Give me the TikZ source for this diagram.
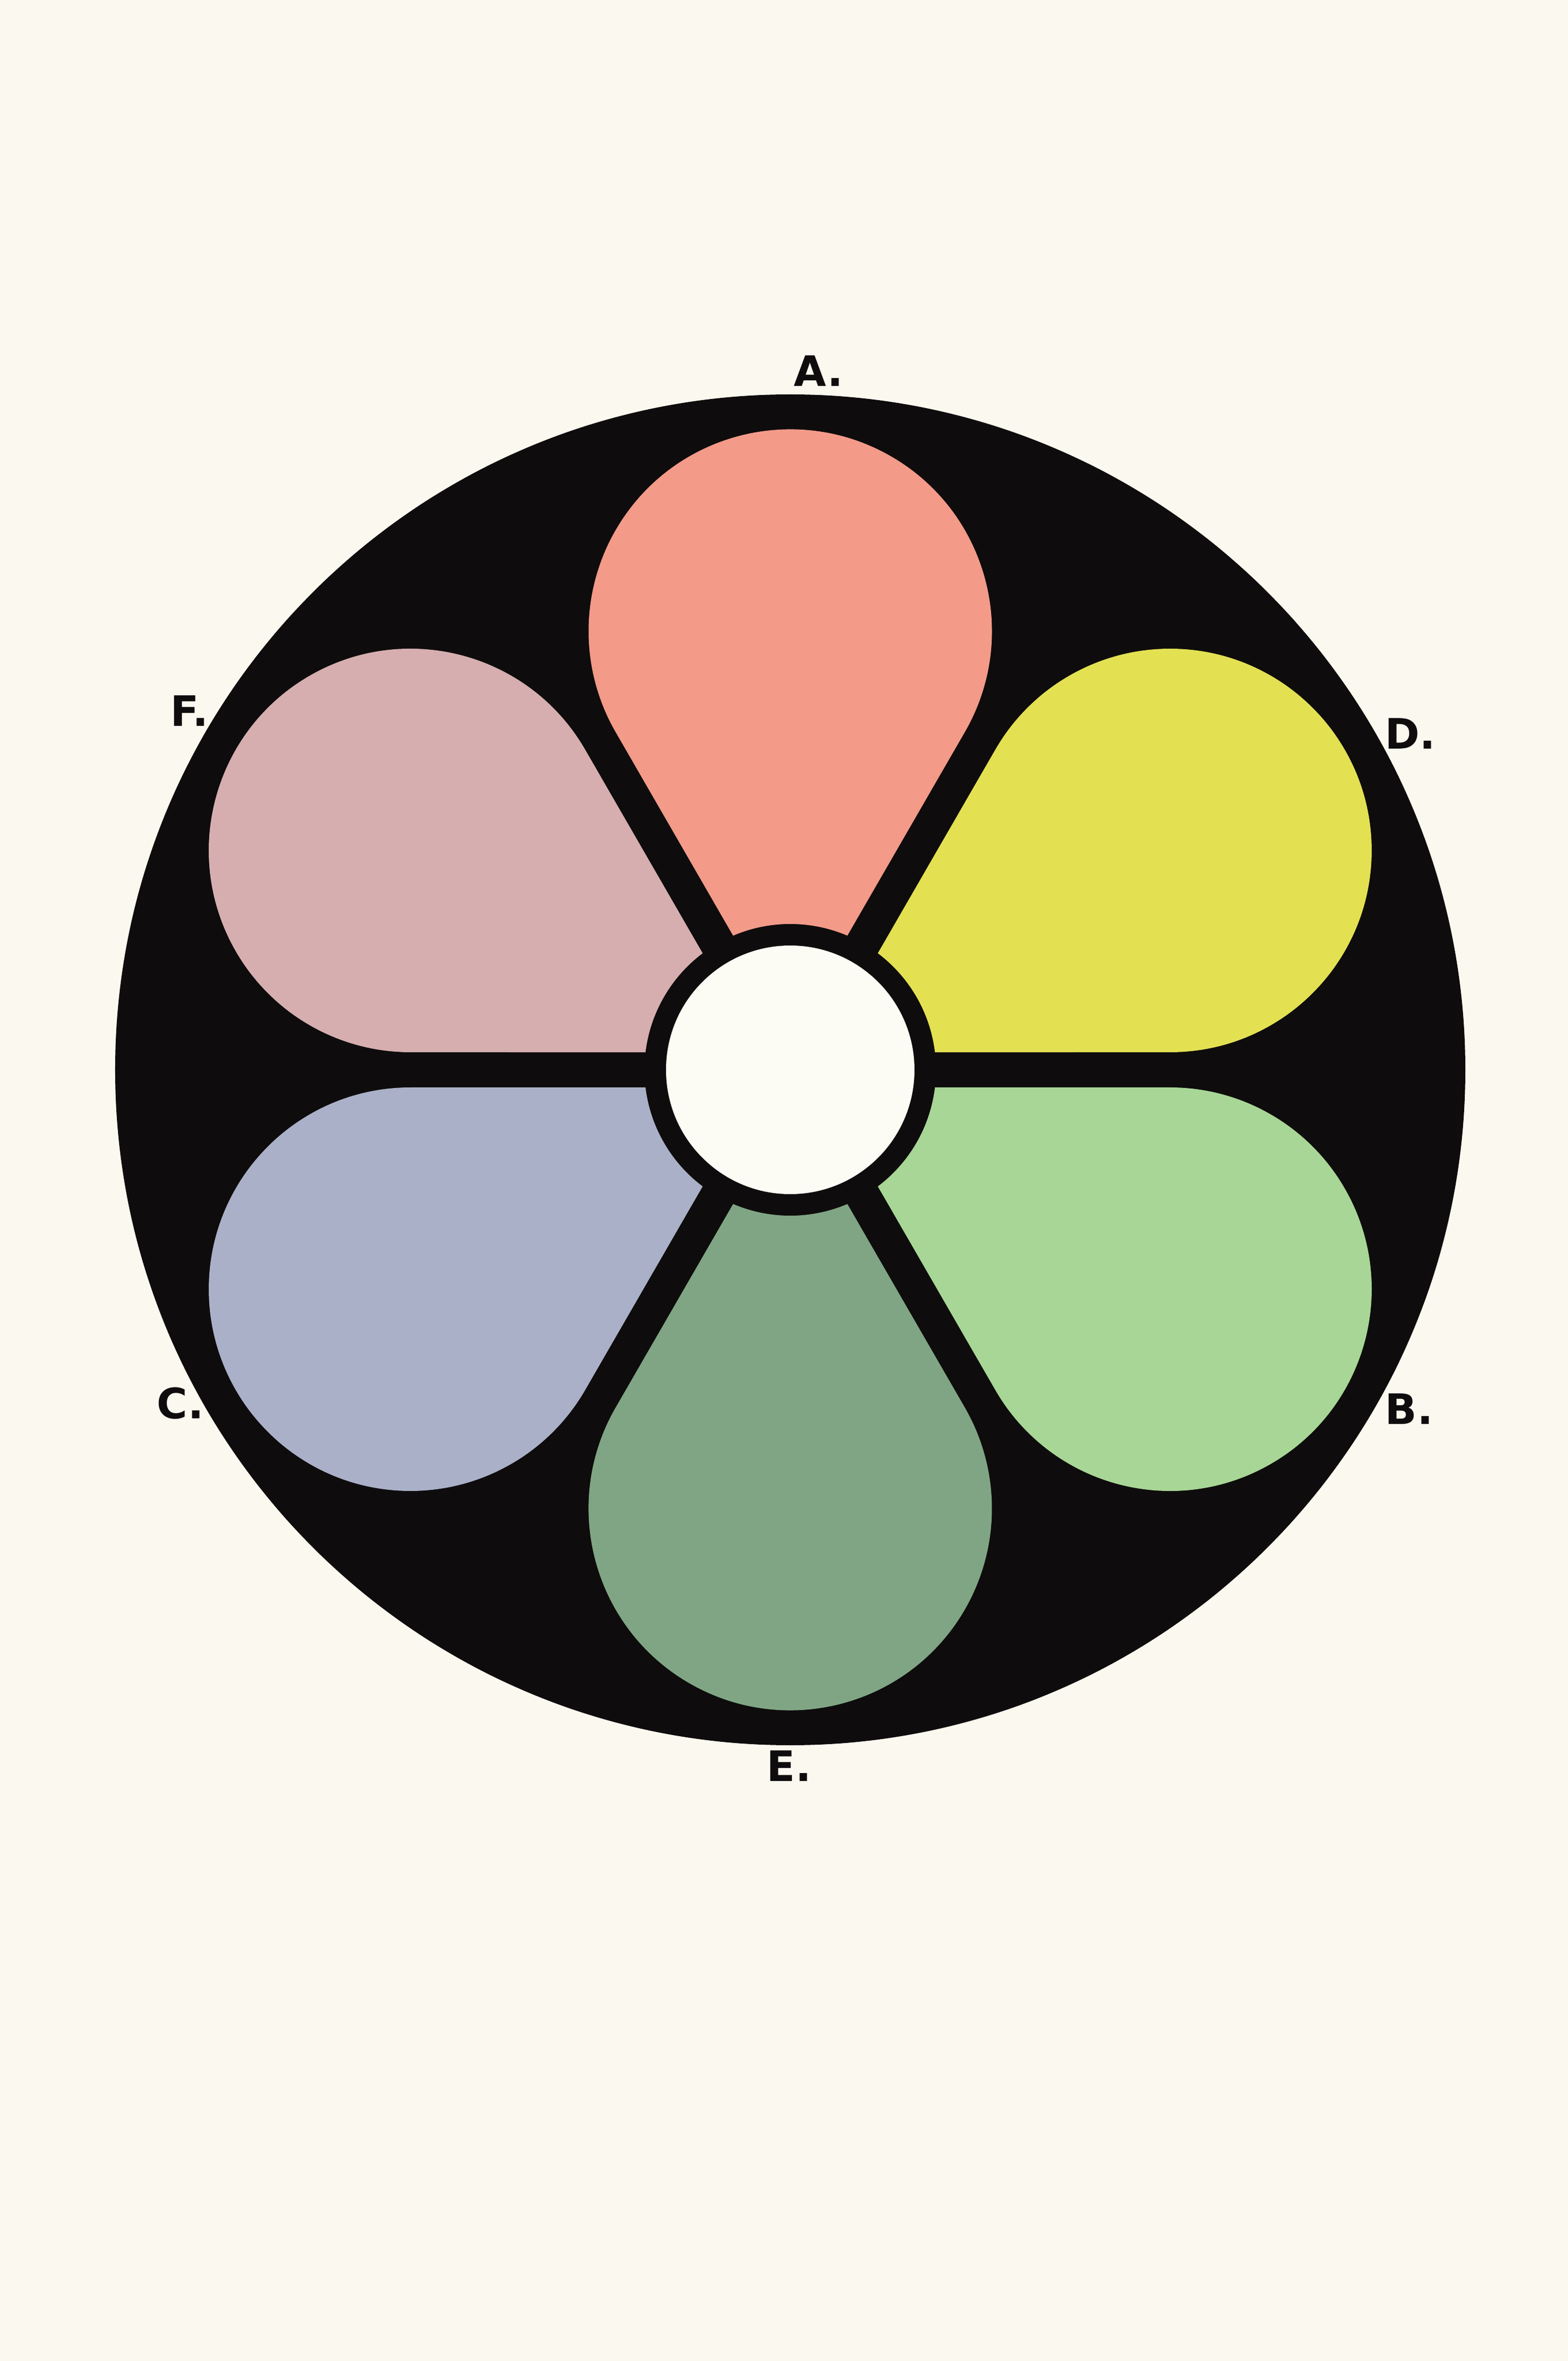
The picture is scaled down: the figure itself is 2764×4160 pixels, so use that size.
\documentclass[tikz,border=0pt]{standalone}
\usepackage{fontspec}
\setmainfont{DejaVu Sans}
\usepackage{xcolor}
\usetikzlibrary{calc}

\definecolor{paper}{HTML}{FBF9EF}
\definecolor{ink}{HTML}{0E0C0C}
\definecolor{centre}{HTML}{FCFCF4}
\definecolor{petalA}{HTML}{F39A89}
\definecolor{petalB}{HTML}{A8D696}
\definecolor{petalC}{HTML}{AAB0C8}
\definecolor{petalD}{HTML}{E3E152}
\definecolor{petalE}{HTML}{80A584}
\definecolor{petalF}{HTML}{D6AEB0}

\tikzset{letter/.style = {font = \fontsize{21}{24}\selectfont\bfseries, text = ink, inner sep = 0pt}}

\begin{document}
\begin{tikzpicture}[x = 0.01cm, y = 0.01cm]
		\def\R{1190};
		\def\D{773};
		\def\w{31};
		\def\ri{257};
		\def\rw{219};
		\pgfmathsetmacro{\rc}{\D/2-\w};
		\pgfmathsetmacro{\dang}{asin(\w/\ri)};

		\fill [paper] (-1393,1885) rectangle (1371,-2275);
		\useasboundingbox (-1393,1885) rectangle (1371,-2275);

		\fill [ink] (0,0) circle [radius = \R];

		% six petals, round end out, straight sides along the spokes
		\foreach \a/\col in {90/petalA, 30/petalD, -30/petalB, -90/petalE, 210/petalC, 150/petalF}
			\fill [\col] (\a-30+\dang:\ri) -- ($(\a:\D)+(\a-120:\rc)$)
				arc [start angle = \a-120, end angle = \a+120, radius = \rc]
				-- (\a+30-\dang:\ri)
				arc [start angle = \a+30-\dang, end angle = \a-30+\dang, radius = \ri] -- cycle;

		\fill [centre] (0,0) circle [radius = \rw];

		\node [letter] (A) at (50,1231) {A.};
		\node [letter] (D) at (1093,592) {D.};
		\node [letter] (B) at (1091,-598) {B.};
		\node [letter] (E) at (-2,-1227) {E.};
		\node [letter] (C) at (-1075,-588) {C.};
		\node [letter] (F) at (-1059,632) {F.};
	\end{tikzpicture}
\end{document}
